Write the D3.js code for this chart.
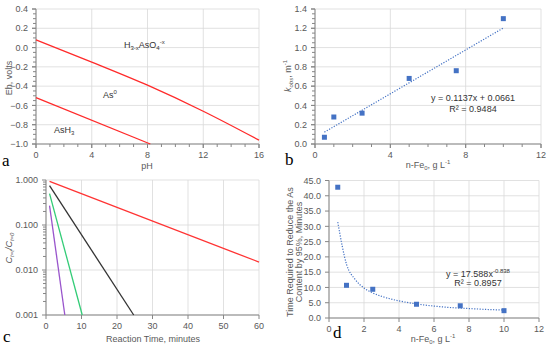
<!DOCTYPE html>
<html>
<head>
<meta charset="utf-8">
<script src="https://d3js.org/d3.v7.min.js"></script>
<style>
  body { margin: 0; background: #fff; }
  svg text { font-family: "Liberation Sans", Arial, sans-serif; fill: #595959; }
  .lbl { font-family: "Liberation Serif", "DejaVu Serif", serif; fill: #000; font-size: 17px; }
</style>
</head>
<body>
<svg id="chart"></svg>
<script>
// ---- panel a : Eh-pH boundaries
var phUpper = [0, 4, 8, 12, 16];
var ehUpper = [0.08, -0.15, -0.39, -0.66, -0.96];
var phLower = [0, 8.2];
var ehLower = [-0.52, -1.0];

// ---- panel b : k_obs vs n-Fe0
var fe = [0.5, 1, 2.5, 5, 7.5, 10];
var kobs = [0.07, 0.28, 0.32, 0.68, 0.76, 1.30];
var fitB = [0.123, 1.203];   // trendline ends at x = 0.5 and 10

// ---- panel c : C/C0 vs time (straight on log axis, so two ends each)
var decaySeries = [
  { color: "#ff3333", t: [1, 60], c: [0.93, 0.015] },
  { color: "#333333", t: [1, 24.7], c: [0.75, 0.001] },
  { color: "#33cc77", t: [1, 10.2], c: [0.5, 0.001] },
  { color: "#9955cc", t: [1, 5.3], c: [0.27, 0.001] }
];

// ---- panel d : time to 95% vs n-Fe0
var t95 = [42.8, 10.7, 9.4, 4.5, 4.0, 2.4];
var fitDx = [0.5, 1, 1.5, 2, 2.5, 3, 4, 5, 6, 7, 8, 9, 10];
var fitDy = [31.4, 17.6, 12.6, 9.8, 8.2, 7.1, 5.6, 4.6, 3.9, 3.4, 3.1, 2.8, 2.6];

var width = 550, height = 350;
var svg = d3.select("#chart").attr("width", width).attr("height", height);

var gridCol = "#d9d9d9", axisCol = "#868686", blue = "#4472c4";

function frame(x, y, xt, yt, xMinor, yMinor, yFmt, xFmt) {
  var g = svg.append("g");
  var x0 = x.range()[0], x1 = x.range()[1], y0 = y.range()[0], y1 = y.range()[1];
  // grid
  g.selectAll(".gx").data(xt).join("line")
    .attr("x1", d => x(d)).attr("x2", d => x(d)).attr("y1", y0).attr("y2", y1)
    .attr("stroke", gridCol).attr("stroke-width", 0.8);
  g.selectAll(".gy").data(yt).join("line")
    .attr("y1", d => y(d)).attr("y2", d => y(d)).attr("x1", x0).attr("x2", x1)
    .attr("stroke", gridCol).attr("stroke-width", 0.8);
  // axes
  g.append("line").attr("x1", x0).attr("x2", x1).attr("y1", y0).attr("y2", y0).attr("stroke", axisCol);
  g.append("line").attr("x1", x0).attr("x2", x0).attr("y1", y0).attr("y2", y1).attr("stroke", axisCol);
  // ticks
  g.selectAll(".tx").data(xt.concat(xMinor)).join("line")
    .attr("x1", d => x(d)).attr("x2", d => x(d)).attr("y1", y0)
    .attr("y2", d => y0 + (xt.includes(d) ? 4 : 3)).attr("stroke", axisCol);
  g.selectAll(".ty").data(yt.concat(yMinor)).join("line")
    .attr("y1", d => y(d)).attr("y2", d => y(d)).attr("x1", x0)
    .attr("x2", d => x0 - (yt.includes(d) ? 4 : 3)).attr("stroke", axisCol);
  g.selectAll(".lx").data(xt).join("text")
    .attr("x", d => x(d)).attr("y", y0 + 13.5).attr("text-anchor", "middle")
    .attr("font-size", 9).text(xFmt || (d => d));
  g.selectAll(".ly").data(yt).join("text")
    .attr("x", x0 - 8).attr("y", d => y(d) + 3.2).attr("text-anchor", "end")
    .attr("font-size", 9).text(yFmt);
  return g;
}

function range(a, b, s) { return d3.range(a, b + s / 2, s).map(v => +v.toFixed(4)); }

// ================= panel a
var xa = d3.scaleLinear().domain([0, 16]).range([36, 259]);
var ya = d3.scaleLinear().domain([-1.0, 0.4]).range([144, 9]);
frame(xa, ya, range(0, 16, 4), range(-1.0, 0.4, 0.2),
  range(0, 16, 1), range(-1.0, 0.4, 0.05), d => d3.format(".1f")(d));
var lineA = d3.line().x(d => xa(d[0])).y(d => ya(d[1]));
svg.append("path").datum(d3.zip(phUpper, ehUpper)).attr("d", lineA.curve(d3.curveMonotoneX))
  .attr("fill", "none").attr("stroke", "#ff2a2a").attr("stroke-width", 1.3);
svg.append("path").datum(d3.zip(phLower, ehLower)).attr("d", d3.line().x(d => xa(d[0])).y(d => ya(d[1])))
  .attr("fill", "none").attr("stroke", "#ff2a2a").attr("stroke-width", 1.3);
var tA = svg.append("text").attr("x", 124).attr("y", 48).attr("font-size", 9).style("fill", "#333");
tA.append("tspan").text("H");
tA.append("tspan").attr("font-size", 6).attr("dy", 2).text("3-x");
tA.append("tspan").attr("dy", -2).text("AsO");
tA.append("tspan").attr("font-size", 6).attr("dy", 2).text("4");
tA.append("tspan").attr("font-size", 6).attr("dy", -6).text("-x");
var tB = svg.append("text").attr("x", 103).attr("y", 98).attr("font-size", 9).style("fill", "#333");
tB.append("tspan").text("As");
tB.append("tspan").attr("font-size", 6).attr("dy", -4).text("0");
var tC = svg.append("text").attr("x", 54).attr("y", 133).attr("font-size", 9).style("fill", "#333");
tC.append("tspan").text("AsH");
tC.append("tspan").attr("font-size", 6).attr("dy", 2).text("3");
svg.append("text").attr("x", 147).attr("y", 169).attr("text-anchor", "middle").attr("font-size", 9).text("pH");
svg.append("text").attr("transform", "translate(12,78) rotate(-90)").attr("text-anchor", "middle")
  .attr("font-size", 9).text("Eh, volts");
svg.append("text").attr("class", "lbl").attr("x", 2).attr("y", 166).text("a");

// ================= panel b
var xb = d3.scaleLinear().domain([0, 12]).range([315, 541]);
var yb = d3.scaleLinear().domain([0, 1.4]).range([144, 9]);
frame(xb, yb, range(0, 12, 4), range(0, 1.4, 0.2),
  range(0, 12, 1), range(0, 1.4, 0.05), d => d3.format(".1f")(d));
svg.append("line").attr("x1", xb(0.5)).attr("x2", xb(10)).attr("y1", yb(fitB[0])).attr("y2", yb(fitB[1]))
  .attr("stroke", blue).attr("stroke-width", 1.2).attr("stroke-dasharray", "1.2,1.5");
svg.selectAll(".pb").data(d3.zip(fe, kobs)).join("rect")
  .attr("x", d => xb(d[0]) - 2.5).attr("y", d => yb(d[1]) - 2.5)
  .attr("width", 5).attr("height", 5).attr("fill", blue);
svg.append("text").attr("x", 473).attr("y", 101).attr("text-anchor", "middle").attr("font-size", 9)
  .style("fill", "#333").text("y = 0.1137x + 0.0661");
svg.append("text").attr("x", 473).attr("y", 112).attr("text-anchor", "middle").attr("font-size", 9)
  .style("fill", "#333").text("R\u00b2 = 0.9484");
var xbT = svg.append("text").attr("x", 428).attr("y", 168).attr("text-anchor", "middle").attr("font-size", 9);
xbT.append("tspan").text("n-Fe");
xbT.append("tspan").attr("font-size", 6).attr("dy", 2).text("0");
xbT.append("tspan").attr("dy", -2).text(", g L");
xbT.append("tspan").attr("font-size", 6).attr("dy", -4).text("-1");
var ybT = svg.append("text").attr("transform", "translate(291,76) rotate(-90)").attr("text-anchor", "middle").attr("font-size", 9);
ybT.append("tspan").attr("font-style", "italic").text("k");
ybT.append("tspan").attr("font-size", 6).attr("dy", 2).attr("font-style", "italic").text("obs");
ybT.append("tspan").attr("dy", -2).text(", m");
ybT.append("tspan").attr("font-size", 6).attr("dy", -4).text("-1");
svg.append("text").attr("class", "lbl").attr("x", 285).attr("y", 165).text("b");

// ================= panel c
var xc = d3.scaleLinear().domain([0, 60]).range([46, 259]);
var yc = d3.scaleLog().domain([0.001, 1]).range([315, 180]);
var cMinor = [];
[0.001, 0.01, 0.1].forEach(b => d3.range(2, 10).forEach(m => cMinor.push(+(b * m).toFixed(4))));
frame(xc, yc, range(0, 60, 10), [0.001, 0.01, 0.1, 1], [], cMinor, d => d3.format(".3f")(d));
var lineC = d3.line().x(d => xc(d[0])).y(d => yc(d[1]));
decaySeries.forEach(s => {
  svg.append("path").datum(d3.zip(s.t, s.c)).attr("d", lineC)
    .attr("fill", "none").attr("stroke", s.color).attr("stroke-width", 1.3);
});
svg.append("text").attr("x", 153).attr("y", 342).attr("text-anchor", "middle").attr("font-size", 9)
  .text("Reaction Time, minutes");
var ycT = svg.append("text").attr("transform", "translate(12,248) rotate(-90)").attr("text-anchor", "middle")
  .attr("font-size", 9).attr("font-style", "italic");
ycT.append("tspan").text("C");
ycT.append("tspan").attr("font-size", 6).attr("dy", 2).text("t=t");
ycT.append("tspan").attr("dy", -2).text("/C");
ycT.append("tspan").attr("font-size", 6).attr("dy", 2).text("t=0");
svg.append("text").attr("class", "lbl").attr("x", 3).attr("y", 342).text("c");

// ================= panel d
var xd = d3.scaleLinear().domain([0, 12]).range([329, 539]);
var yd = d3.scaleLinear().domain([0, 45]).range([318, 180.5]);
frame(xd, yd, range(0, 12, 2), range(0, 45, 5), [], [], d => d3.format(".1f")(d));
svg.append("path").datum(d3.zip(fitDx, fitDy))
  .attr("d", d3.line().x(d => xd(d[0])).y(d => yd(d[1])).curve(d3.curveMonotoneX))
  .attr("fill", "none").attr("stroke", blue).attr("stroke-width", 1.2).attr("stroke-dasharray", "1.2,1.5");
svg.selectAll(".pd").data(d3.zip(fe, t95)).join("rect")
  .attr("x", d => xd(d[0]) - 2.5).attr("y", d => yd(d[1]) - 2.5)
  .attr("width", 5).attr("height", 5).attr("fill", blue);
var eqD = svg.append("text").attr("x", 478).attr("y", 277).attr("text-anchor", "middle").attr("font-size", 9).style("fill", "#333");
eqD.append("tspan").text("y = 17.588x");
eqD.append("tspan").attr("font-size", 6).attr("dy", -4).text("-0.838");
svg.append("text").attr("x", 478).attr("y", 286).attr("text-anchor", "middle").attr("font-size", 9)
  .style("fill", "#333").text("R\u00b2 = 0.8957");
var xdT = svg.append("text").attr("x", 433).attr("y", 342).attr("text-anchor", "middle").attr("font-size", 9);
xdT.append("tspan").text("n-Fe");
xdT.append("tspan").attr("font-size", 6).attr("dy", 2).text("0");
xdT.append("tspan").attr("dy", -2).text(", g L");
xdT.append("tspan").attr("font-size", 6).attr("dy", -4).text("-1");
svg.append("text").attr("transform", "translate(293,252) rotate(-90)").attr("text-anchor", "middle")
  .attr("font-size", 9).text("Time Required to Reduce the As");
svg.append("text").attr("transform", "translate(302,252) rotate(-90)").attr("text-anchor", "middle")
  .attr("font-size", 9).text("Content by 95%, Minutes");
svg.append("text").attr("class", "lbl").attr("x", 333).attr("y", 338).text("d");
</script>
</body>
</html>
